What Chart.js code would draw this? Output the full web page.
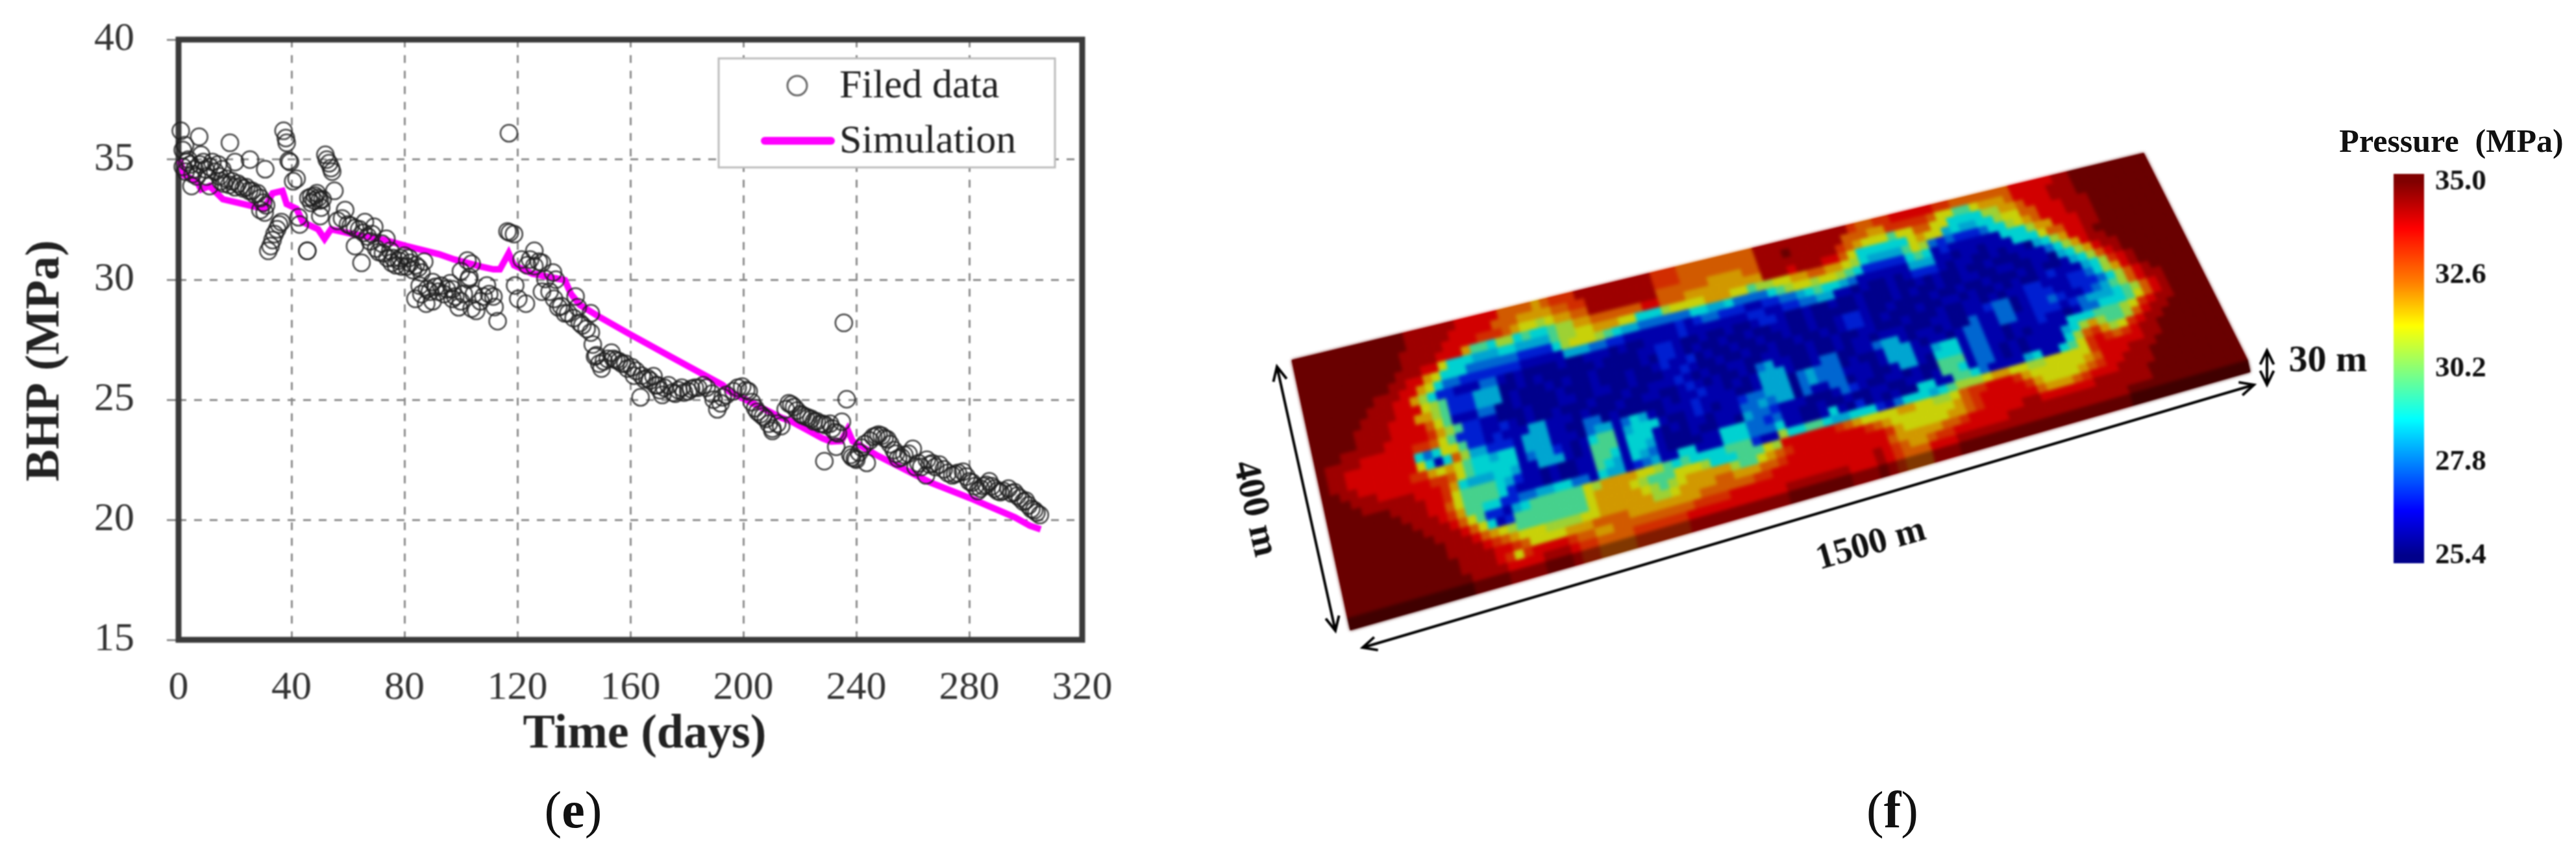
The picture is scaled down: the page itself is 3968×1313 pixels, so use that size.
<!DOCTYPE html>
<html>
<head>
<meta charset="utf-8">
<title>BHP and pressure map</title>
<script src="https://cdn.jsdelivr.net/npm/chart.js@4/dist/chart.umd.min.js"></script>
<style>
  html, body { margin: 0; background: #fff; width: 3968px; height: 1313px; overflow: hidden; }
  canvas { position: absolute; filter: blur(0.8px); }
  #chart-bhp { left: 0; top: 0; }
  #chart-map { left: 1880px; top: 180px; }
  #chart-bar { left: 3600px; top: 180px; }
  .panel { position: absolute; top: 1200px; font: 80px "Liberation Serif"; color: #111; line-height: 96px; transform: translateX(-50%); }
  .bar-title { position: absolute; left: 3776px; top: 187px; font: bold 50px "Liberation Serif"; color: #111; line-height: 60px; white-space: pre; transform: translateX(-50%); }
</style>
</head>
<body>
<canvas id="chart-bhp" width="1900" height="1313"></canvas>
<canvas id="chart-map" width="1780" height="850"></canvas>
<canvas id="chart-bar" width="352" height="760"></canvas>
<div class="panel" style="left:883px">(<b>e</b>)</div>
<div class="panel" style="left:2915px">(<b>f</b>)</div>
<div class="bar-title">Pressure  (MPa)</div>
<script>
// left panel: as [day, MPa]
const filedReadings = [
  [0.8,36.2],[1.5,35.4],[2.3,35.6],[1.5,34.7],[2.5,34.5],[3,34.9],[3.5,35.0],[4.2,34.8],[4.6,33.9],[5,34.4],[5.7,34.6],[6.5,34.3],
  [7.3,35.95],[7.5,34.8],[8,35.2],[8.8,34.9],[9.5,34.6],[10,34.3],[11,33.9],[11,34.7],[12,34.9],[13,34.5],[14,34.8],[14.5,34.3],
  [15,34.1],[15.5,34.6],[16,34.0],[17,34.2],[18.2,35.7],[18,33.95],[19,34.1],[20,34.9],[20,33.85],[21,34.0],[22,33.9],[23,33.8],
  [24,33.85],[25.3,35.0],[25,33.7],[26,33.7],[27,33.55],[28,33.6],[29,33.4],[30.7,34.6],[30,33.2],[31,33.1],[29,32.9],[30.5,32.8],
  [31.8,31.2],[32.6,31.4],[33.3,31.65],[34,31.9],[34.9,32.1],[35.6,32.3],[36.4,32.4],[37.2,36.2],[38,35.9],[38.3,35.7],[39,34.95],[39.5,34.9],
  [40.6,34.1],[41.8,34.2],[42.5,32.6],[42.9,32.3],[45.6,31.2],[45.6,31.2],[46,33.4],[47,33.45],[47,33.2],[48,33.3],[48.3,33.5],[49,33.6],
  [49.4,33.4],[50,33.3],[50.5,33.0],[51,33.35],[50.2,32.65],[52,35.2],[52.5,35.0],[53.3,34.85],[54,34.65],[54.4,34.5],[55.2,33.7],[56.3,32.45],
  [57.9,32.55],[59,32.9],[60,32.3],[61,32.25],[62.5,32.15],[62.5,31.4],[64,32.1],[64.8,30.7],[65.5,31.95],[66,32.4],[67,31.8],[67.8,31.6],
  [68.5,31.9],[69.3,32.2],[70,31.3],[70.9,31.15],[72,31.5],[72.4,31.1],[73.6,31.7],[74,30.9],[75,31.2],[75.5,30.7],[76,30.9],[77,30.6],
  [78,30.8],[78.5,30.9],[79,30.55],[80,31.0],[80.8,30.55],[81.6,30.9],[82,30.7],[83,30.4],[84,30.6],[85,30.5],[86,30.3],[87,30.75],
  [83.9,29.2],[85.4,29.75],[86,29.4],[87.7,29.0],[88,29.6],[89,29.5],[90,29.9],[90,29.1],[91,29.7],[92,29.5],[93,29.75],[94,29.4],
  [95,29.6],[96.2,29.85],[97,29.2],[97,29.6],[98,29.3],[99.2,28.85],[100,29.1],[100,30.35],[101,29.4],[102.3,30.8],[102.7,30.0],[103,30.1],
  [103.8,28.8],[104.6,29.4],[103.8,30.66],[105.4,28.7],[106.9,29.1],[108,29.3],[109.2,29.76],[110,29.4],[111.5,29.3],[111.9,28.86],[113,28.27],
  [116.5,32.01],[117.3,31.96],[117,36.1],[118.8,31.9],[119.2,29.76],[120.3,29.2],[121.5,30.84],[123,29.0],[123.5,30.6],[124.5,30.84],[126,31.2],[126,30.57],
  [127.6,30.75],[128.7,30.7],[128.7,29.5],[129.9,30.03],[131.4,29.5],[132.6,30.3],[133,29.2],[133.6,30],[134.5,28.85],[135.5,28.9],[136.8,28.6],[138,28.6],
  [139.9,28.4],[140.6,29.3],[141.4,28.85],[142.1,28.2],[143,28.1],[144.5,27.95],[146,27.8],[146,28.6],[146.7,27.3],[147.5,26.8],[148,26.85],[149,26.5],
  [149.8,26.3],[150.6,26.6],[152,26.7],[153.3,26.96],[154,26.7],[155,26.65],[156,26.6],[157,26.5],[158.2,26.5],[159,26.3],[160.5,26.35],[161.3,26],
  [162,26.2],[163.6,25.1],[164,26],[165,25.85],[166,25.9],[167,25.8],[168.2,25.98],[169,25.6],[169.7,25.6],[170.5,25.4],[171.3,25.2],[172,25.5],
  [173.5,25.6],[175,25.3],[175.9,25.25],[177,25.4],[178.2,25.5],[179,25.3],[180.5,25.35],[181.5,25.45],[182.8,25.5],[184,25.5],[185.8,25.6],[187,25.5],
  [188.9,25.25],[189.5,25],[190.8,24.6],[192,24.85],[192.7,25.1],[194,25.2],[196.5,25.35],[198,25.5],[199.6,25.55],[201,25.4],[201.9,25.35],[203,24.9],
  [204.2,24.65],[205,24.5],[206,24.4],[207,24.3],[208,24.2],[209,24.0],[210.3,23.8],[210.3,23.7],[212,24.0],[213.4,23.9],[215,24.6],[216.1,24.85],
  [217,24.8],[218,24.7],[219,24.55],[220.3,24.4],[221,24.35],[222,24.3],[223,24.25],[224.1,24.2],[225,24.1],[226,24.1],[227.2,24],[228,24],
  [228.7,22.44],[229,23.95],[230.7,24],[231.5,23.8],[232.6,23.65],[232.9,23.04],[233.5,23.6],[234.9,24.08],[235.6,28.2],[236.6,25.02],[237.9,22.7],[238.5,22.6],
  [239.5,22.55],[240,22.5],[241,22.8],[242,23.0],[243,23.15],[243.7,22.37],[244.8,23.3],[246,23.45],[247,23.5],[247.9,23.55],[249,23.5],[250,23.4],
  [251,23.35],[252,23.15],[253.3,22.9],[254,22.75],[254.8,22.55],[256,22.6],[257,22.7],[258.5,22.75],[260,22.95],[261,22.2],[262,22.35],[263,22.2],
  [264.7,21.85],[265,22.5],[266,22.3],[267,22.35],[268,22.2],[269.4,22.3],[271,22.1],[272.4,21.95],[274,21.85],[275,21.9],[276,21.95],[277.8,22],
  [279,21.8],[280,21.6],[281,21.55],[282,21.4],[283.1,21.2],[284,21.3],[285,21.4],[286,21.45],[287.1,21.6],[288,21.4],[289,21.3],[290,21.2],
  [291,21.15],[292,21.2],[293.9,21.3],[295,21.1],[296,21.15],[297,21.0],[298,20.9],[299.2,20.75],[300,20.8],[301,20.6],[302,20.45],[303,20.4],[303.8,20.3],[305,20.2]
];
const simDays = [0.4,2,6.5,8,11,15.7,24.9,30.3,33.3,36.8,38.3,41.8,44,49.4,51.7,54,61.7,73,80.8,92.3,97.7,106.9,111.5,113.8,116.9,118.8,125.3,136.8,139,142.1,148.3,159.8,175.1,192.7,195,213.4,217,227.9,231,234.7,236.9,238.7,247.1,266.3,281.4,296.2,301.5,305.3];
const simBhp = [35,34.35,34.1,33.76,33.9,33.35,33.1,32.95,33.6,33.7,33.15,32.95,32.4,32.1,31.7,32.1,31.9,31.65,31.4,31.06,30.84,30.55,30.43,30.43,31.1,30.6,30.25,29.98,29.4,28.95,28.5,27.73,26.74,25.61,25.35,24.25,24.1,23.4,23.26,23.28,23.76,23.27,22.7,21.55,20.85,20.1,19.75,19.6];
const timeTicksMax = 320;
const bhpTicksMin = 15;
const bhpTicksMax = 40;

// right panel: one letter per cell, 100 cells along the 1500 m side, 28 along the 400 m side
const pressureLetters = "abcdefghijklmno";
const pressureLevels = [25.7,26.1,26.9,27.7,28.4,28.9,29.7,30.7,31.2,31.9,32.6,33.2,33.8,34.4,35.0];
const pressureRows = [
  "oooooooooo ooonnnnnnm mmmmkkkkjk lllnnnnnnn nnlllkkkkk kkkknnnnnn nnnnnlkkll mmmmmllkkk kkkkmmmmmn nooooooooo",
  "oooooooooo ooonnnnnmm mmmkkkjjjj kkllnnnnnn nnlllkkkkk kkkknnnonn nnnnkkkjjl llllkiiggi jjjkmmmmnn nooooooooo",
  "oooooooooo oonnnnnmmm mlllkjiihi jjkknnnnnn nnkkkkkkjj jjkknnnnnn nnnlkjiiig iikkiiffff hhjjkmmmnn nooooooooo",
  "oooooooooo oonnnnmmmj ggfhhfgffg hhjjkkkkkk mmkkkjjjjj jjjjnnnmnn nmmkifffff fijiiefeef fhiikkmmmn nnoooooooo",
  "oooooooooo onnnmmifff eeeffeeeeg hhiijjjiif ffhiiiijjj iighhiijjk kjjihfeeee gihdcdcccd ffhijkmmmn nnoooooooo",
  "oooooooooo nnmmjifffd dddddccccf hiiihgfeed dddddffeef ddddfghiih iihgfccccc fgfbcbbbbb bfffhjjmmm nnoooooooo",
  "oooooooonn nmmjifddcc cccccbbbbb eeeddccbbb bbbcbcddcc cbbccddefg ffedbbbbbb eeebbabbab bbfffikkmm nnoooooooo",
  "ooooooonnn mmjhfccbbb ddbabaaaab aabbbabaab bbbcbbbbbb bccbbccdde ebbabaabab cccbabbaab abbaefhjmm nooooooooo",
  "oooooonnnn mmmihgccce eeaababaaa aaabaaaabb ccbaabaaba abccbaabaa baabaaabaa babaabaaba aabbbdfhjm nnoooooooo",
  "ooooonnnnm mmjjhgccce eeabaaabab aabaaaaaba ccbabaabaa baabbaabaa aaabaaabab aabaabbaab baabbaefhj mnnooooooo",
  "ooooonnnnm mmmkigbbbd daabaaaaba aabaaabaab cbbcabaaba abaabaabaa bccbaabaaa abaabaabaa ababaabefh kmnooooooo",
  "ooonnnnnmm mmmljhgccb baaabaaabb aabbaabaaa bbcbaabaab aabaabaaba bccbabaaab aabbabaaba baabcbbbef hlmnoooooo",
  "onnnnmmmmm mllkigcccb bcbabaabaa abaaabaabb bcbabaabba abbaaabaab aabbaaabaa abaabbabab bccbbbccdf hjmnoooooo",
  "onnmmmmmmm mfdfiigccb cbbbeebbba baaabaabba abcbabaaba debbaabaab abbabbbaaa bbaabbcdda bcccbbcccd fhkmnooooo",
  "onnmmmmmmm mifbfkheec ccbeeebbaa ddabaaaaab abbcbbabab eeebaabdda abbdeebabb abaadbbdda bccdcbbcde ghkmnnoooo",
  "oonnmmmmmm lljijigffe ffbeeebbba deebdfebab bbcbbbbaab eeeadeddda baabeeebab babddbbddb bcccbcdeee fghkmnoooo",
  "ooonnnmmmm mmllkigfff ffbdeecbab fggbefffba abcbabbcdd eeeadedddb bbabeeebbe ffbddbbabb bcbbabddff fgikmnoooo",
  "oooonnnnnn mmmljfeeef febbeeebab gggbfffbab abbabbbdde deeadbbdda bbaabeebaf ffbddbbaba bbbbfffggg hilmnnoooo",
  "ooooooonnn nmmliggggf ecbbabaabb ggfbffebaa abaabbaedd cbbbaaabdc baabbabaag ggbddbabab bbbefhjhgg hkmnnooooo",
  "oooooooonn nmmkiggggf cbbbabaabb gfebfedbaa aabbfffddc dbbaabaaba abbaabbabg gfbddbabab bbbfhkljhi lmnnoooooo",
  "ooooooooon nnmljggffc cddeeffddb feebcdebbf fbbbfffddd fbbaabfbac ababaaffbb ggfdbbbbef bbfgilmlkl mnnooooooo",
  "oooooooooo nnnmkigccb efggggggih jjjjiihgfg ffffgggcbb hffggfeeff fcbdfffefg hhhijjiihh iiiiilmmmm mnnooooooo",
  "oooooooooo onnnmkifbc ggggggggij jjjihgggii ihfffgggih mmmmmmlkji iiijjiihhi kllmmmljii iiiijkmmmn nnoooooooo",
  "oooooooooo oonnnmkjih ggggggggij jjjjihghij jjjjhggijk lmmmmmmmml kjiiiiiiij klmmmmmlji iiijklmmnn nooooooooo",
  "oooooooooo oonnnnmlkj iiihhhhiij jjjjjhhijj jjkkjjjkkl mmmmmmmmmm mljiiiiijj klmmmmmmkj jjklmmmnnn nooooooooo",
  "oooooooooo ooonnnnmml kiiiijjjkk kkjjjjjjjj kkkkkkllmm mmmmmmmmmm mkjjjjjkkl mmmmmmnnmm mmmmnnnnnn oooooooooo",
  "oooooooooo ooonnnnmli lmmmmlkkjj kkkkkkkkkl lllmmmmmmm mmmmmmmmmn mlkjjkllmm mmmmnnnnnn nnnnnnnnnn oooooooooo",
  "oooooooooo oooonnnnmm mmnnnmllkk kkllllllmm mmmmmmmmmn nnnnnnmmmn mlkkkmmmnn nnnnnnnnnn nnnnnnnooo oooooooooo"
];
const colorbarTicks = [35.0, 32.6, 30.2, 27.8, 25.4];
const colorbarValues = [25.4, 26.55, 28.9, 30.1, 31.3, 32.4, 33.8, 35.0];
const colorbarColors = [[0,0,139],[0,0,255],[0,255,255],[128,255,128],[255,255,0],[255,128,0],[255,0,0],[128,0,0]];

const SERIF = '"Liberation Serif"';

function pressureColor(p, shade) {
    let i = 0;
    while (i < colorbarValues.length - 2 && p > colorbarValues[i + 1]) i++;
    const t = Math.min(1, Math.max(0, (p - colorbarValues[i]) / (colorbarValues[i + 1] - colorbarValues[i])));
    const a = colorbarColors[i], b = colorbarColors[i + 1];
    return 'rgb(' + [0, 1, 2].map(k => Math.round((a[k] + (b[k] - a[k]) * t) * shade)).join(',') + ')';
}

// frame of the plot, the axis titles (off centre in the original) and the legend box
const framePlugin = {
    id: 'frame',
    beforeDatasetsDraw(chart) {
        const a = chart.chartArea, c = chart.ctx;
        c.save();
        c.strokeStyle = '#3a3a3a';
        c.lineWidth = 9;
        c.strokeRect(a.left, a.top, a.right - a.left, a.bottom - a.top);
        c.restore();
    },
    afterDatasetsDraw(chart) {
        const c = chart.ctx;
        c.save();
        c.fillStyle = '#fff';
        c.strokeStyle = '#bbb';
        c.lineWidth = 3;
        c.fillRect(1107, 90, 518, 168);
        c.strokeRect(1107, 90, 518, 168);
        c.strokeStyle = '#666';
        c.lineWidth = 3;
        c.beginPath();
        c.arc(1228, 132, 15, 0, Math.PI * 2);
        c.stroke();
        c.strokeStyle = '#ff00ff';
        c.lineWidth = 12;
        c.lineCap = 'round';
        c.beginPath();
        c.moveTo(1178, 217);
        c.lineTo(1280, 217);
        c.stroke();
        c.fillStyle = '#222';
        c.font = '62px ' + SERIF;
        c.textBaseline = 'middle';
        c.fillText(chart.data.datasets[0].label, 1293, 134);
        c.fillText(chart.data.datasets[1].label, 1293, 219);
        c.font = 'bold 74px ' + SERIF;
        c.textAlign = 'center';
        c.fillText('Time (days)', 993, 1133);
        c.translate(71, 556);
        c.rotate(-Math.PI / 2);
        c.fillText('BHP (MPa)', 0, 0);
        c.restore();
    }
};

new Chart(document.getElementById('chart-bhp').getContext('2d'), {
    type: 'scatter',
    data: {
        datasets: [
            {
                label: 'Filed data',
                data: filedReadings.map(r => ({ x: r[0], y: r[1] })),
                pointRadius: 13,
                pointBorderWidth: 2.5,
                pointBorderColor: 'rgba(30,30,30,0.85)',
                pointBackgroundColor: 'rgba(0,0,0,0)',
                clip: false,
                order: 1
            },
            {
                label: 'Simulation',
                data: simDays.map((d, i) => ({ x: d, y: simBhp[i] })),
                showLine: true,
                borderColor: '#ff00ff',
                borderWidth: 10,
                pointRadius: 0,
                tension: 0,
                clip: false,
                order: 2
            }
        ]
    },
    options: {
        responsive: false,
        animation: false,
        layout: { padding: { left: 0, top: 61, right: 233, bottom: 137 } },
        plugins: { legend: { display: false }, tooltip: { enabled: false } },
        scales: {
            x: {
                type: 'linear',
                min: 0,
                max: timeTicksMax,
                // labels would otherwise push the plot area away from the fixed frame
                afterFit(s) { s.height = 190; s.paddingLeft = 0; s.paddingRight = 0; },
                ticks: { stepSize: 40, maxRotation: 0, color: '#333', padding: 38, font: { family: SERIF, size: 62 } },
                grid: { color: '#8c8c8c', lineWidth: 3, drawTicks: false },
                border: { display: false, dash: [12, 12] }
            },
            y: {
                type: 'linear',
                min: bhpTicksMin,
                max: bhpTicksMax,
                afterFit(s) { s.width = 275; s.paddingTop = 0; s.paddingBottom = 0; },
                ticks: { stepSize: 5, color: '#333', padding: 50, font: { family: SERIF, size: 62 } },
                grid: { color: '#8c8c8c', lineWidth: 3, tickLength: 18 },
                border: { display: false, dash: [12, 12] }
            }
        }
    },
    plugins: [framePlugin]
});

// plate corners in page pixels, the model is seen in perspective so cells are bilinear quads
const plate = { tl: [1990, 555], tr: [3302, 236], br: [3462, 555], bl: [2076, 953] };

function platePoint(u, v) {
    const p = k => plate.tl[k] + u * (plate.tr[k] - plate.tl[k]) + v * (plate.bl[k] - plate.tl[k]) +
        u * v * (plate.br[k] - plate.bl[k] - plate.tr[k] + plate.tl[k]);
    return [p(0) - 1880, p(1) - 180];
}

function quad(c, pts, color) {
    c.fillStyle = color;
    c.strokeStyle = color;
    c.beginPath();
    c.moveTo(pts[0][0], pts[0][1]);
    for (let i = 1; i < pts.length; i++) c.lineTo(pts[i][0], pts[i][1]);
    c.closePath();
    c.fill();
    c.stroke();
}

function arrow(c, x1, y1, x2, y2) {
    const head = (x, y, ang) => {
        c.beginPath();
        c.moveTo(x + 24 * Math.cos(ang + 0.45), y + 24 * Math.sin(ang + 0.45));
        c.lineTo(x, y);
        c.lineTo(x + 24 * Math.cos(ang - 0.45), y + 24 * Math.sin(ang - 0.45));
        c.stroke();
    };
    const ang = Math.atan2(y2 - y1, x2 - x1);
    c.beginPath();
    c.moveTo(x1 - 1880, y1 - 180);
    c.lineTo(x2 - 1880, y2 - 180);
    c.stroke();
    head(x1 - 1880, y1 - 180, ang);
    head(x2 - 1880, y2 - 180, ang + Math.PI);
}

function label(c, text, x, y, deg, size) {
    c.save();
    c.translate(x - 1880, y - 180);
    c.rotate(deg * Math.PI / 180);
    c.font = 'bold ' + size + 'px ' + SERIF;
    c.textAlign = 'center';
    c.textBaseline = 'middle';
    c.fillStyle = '#111';
    c.fillText(text, 0, 0);
    c.restore();
}

const platePlugin = {
    id: 'plate',
    afterDatasetsDraw(chart) {
        const c = chart.ctx, sx = chart.scales.x, sy = chart.scales.y, a = chart.chartArea;
        const uv = (col, row) => platePoint(
            (sx.getPixelForValue(col) - a.left) / (a.right - a.left),
            (sy.getPixelForValue(row) - a.top) / (a.bottom - a.top));
        c.save();
        c.lineWidth = 1;
        chart.data.datasets[0].data.forEach(d => {
            const p1 = uv(d.x, d.y), p2 = uv(d.x + 1, d.y), p3 = uv(d.x + 1, d.y + 1), p4 = uv(d.x, d.y + 1);
            quad(c, [p1, p2, p3, p4], pressureColor(d.p, 0.82));
            // front face of the block below the last row
            if (d.y === pressureRows.length - 1) {
                quad(c, [p4, p3, [p3[0] + 4, p3[1] + 18], [p4[0] + 4, p4[1] + 18]], pressureColor(d.p, 0.5));
            }
        });
        // soften the cell edges, the original is a blurry screenshot
        c.filter = 'blur(2.5px)';
        c.drawImage(c.canvas, 0, 0);
        c.filter = 'none';
        c.strokeStyle = '#000';
        c.lineWidth = 4;
        arrow(c, 1967, 565, 2057, 972);
        arrow(c, 2099, 998, 3472, 593);
        arrow(c, 3492, 540, 3492, 593);
        c.restore();
        label(c, '400 m', 1932, 784, 77, 58);
        label(c, '1500 m', 2882, 840, -16, 56);
        label(c, '30 m', 3586, 557, 0, 58);
    }
};

const plateCells = [];
pressureRows.forEach((row, r) => {
    row.replace(/ /g, '').split('').forEach((ch, col) => {
        plateCells.push({ x: col, y: r, p: pressureLevels[pressureLetters.indexOf(ch)] });
    });
});

new Chart(document.getElementById('chart-map').getContext('2d'), {
    type: 'scatter',
    data: { datasets: [{ label: 'Pressure', data: plateCells, pointRadius: 0 }] },
    options: {
        responsive: false,
        animation: false,
        plugins: { legend: { display: false }, tooltip: { enabled: false } },
        scales: {
            x: { type: 'linear', min: 0, max: 100, display: false },
            y: { type: 'linear', min: 0, max: pressureRows.length, reverse: true, display: false }
        }
    },
    plugins: [platePlugin]
});

new Chart(document.getElementById('chart-bar').getContext('2d'), {
    type: 'bar',
    data: {
        labels: ['Pressure'],
        datasets: [{
            data: [[25.2, 35.2]],
            barPercentage: 1,
            categoryPercentage: 1,
            backgroundColor(ctx) {
                const a = ctx.chart.chartArea, y = ctx.chart.scales.y;
                if (!a || !y) return '#000';
                const g = ctx.chart.ctx.createLinearGradient(0, y.getPixelForValue(25.4), 0, y.getPixelForValue(35));
                colorbarValues.forEach(v => g.addColorStop(Math.min(1, (v - 25.4) / 9.6), pressureColor(v, 1)));
                return g;
            }
        }]
    },
    options: {
        responsive: false,
        animation: false,
        layout: { padding: { left: 87, top: 88, bottom: 72 } },
        plugins: { legend: { display: false }, tooltip: { enabled: false } },
        scales: {
            x: { display: false },
            y: {
                position: 'right',
                min: 25.2,
                max: 35.2,
                afterFit(s) { s.width = 218; s.paddingTop = 0; s.paddingBottom = 0; },
                afterBuildTicks(s) { s.ticks = colorbarTicks.map(v => ({ value: v })); },
                ticks: { color: '#111', padding: 17, callback: v => v.toFixed(1), font: { family: SERIF, size: 45, weight: 'bold' } },
                grid: { display: false, drawTicks: false },
                border: { display: false }
            }
        }
    }
});
</script>
</body>
</html>
